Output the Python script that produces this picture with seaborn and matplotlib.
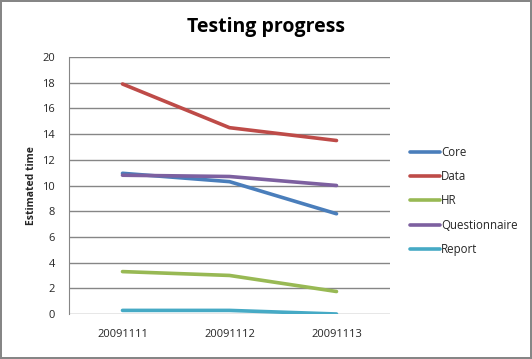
import pandas as pd
import matplotlib.pyplot as plt
import seaborn as sns

dates = ["20091111", "20091112", "20091113"]
core = [10.95, 10.3, 7.8]
data_ = [17.9, 14.5, 13.5]
hr = [3.3, 3.0, 1.75]
questionnaire = [10.8, 10.7, 10.0]
report = [0.28, 0.28, 0.0]

series = {"Core": core, "Data": data_, "HR": hr,
          "Questionnaire": questionnaire, "Report": report}
colors = ["#4A7EBB", "#BE4B48", "#98B954", "#7D60A0", "#46AAC5"]

rows = []
for name, vals in series.items():
    for i, v in enumerate(vals):
        rows.append({"idx": i, "date": dates[i], "series": name, "value": v})
df = pd.DataFrame(rows)

sns.set_style("white")
plt.rcParams["font.family"] = ["Open Sans", "DejaVu Sans"]

fig = plt.figure(figsize=(5.32, 3.59), dpi=100)
fig.patch.set_edgecolor("#868686")
fig.patch.set_linewidth(1.5)
ax = fig.add_axes([69 / 532, 1 - 314 / 359, 321 / 532, 257 / 359])

sns.lineplot(data=df, x="idx", y="value", hue="series", palette=colors,
             linewidth=2.6, ax=ax, zorder=3)

ax.set_xlim(-0.5, 2.5)
ax.set_ylim(0, 20)
ax.set_yticks(range(0, 21, 2))
ax.set_xticks(range(len(dates)))
ax.set_xticklabels(dates)
ax.tick_params(axis="both", labelsize=8, length=0)
ax.tick_params(axis="x", pad=11)
ax.tick_params(axis="y", pad=10)
ax.grid(axis="y", color="#868686", linewidth=1)
ax.set_axisbelow(True)
for s in ["top", "right", "bottom"]:
    ax.spines[s].set_visible(False)
ax.spines["left"].set_color("#868686")
ax.set_xlabel("")
ax.set_ylabel("Estimated time", fontsize=7.5, fontweight="bold", labelpad=4)

fig.text(266 / 532, 1 - 27 / 359, "Testing progress", ha="center", va="center",
         fontsize=14, fontweight="bold", color="black")

leg = ax.legend(loc="center left", bbox_to_anchor=(1.03, 0.44), frameon=False,
                fontsize=8.3, handlelength=2.6, handletextpad=0.1,
                labelspacing=0.98)
for line in leg.get_lines():
    line.set_linewidth(2.6)

fig.savefig("out.png", dpi=100)
